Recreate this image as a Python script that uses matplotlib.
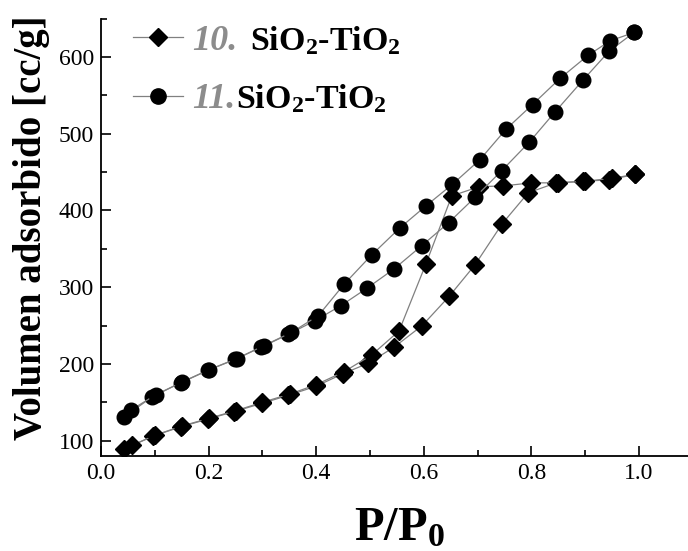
import numpy as np
import matplotlib
matplotlib.use('Agg')
import matplotlib.pyplot as plt
from matplotlib.lines import Line2D

plt.rcParams['font.family'] = ['Liberation Serif', 'DejaVu Serif']
plt.rcParams['mathtext.fontset'] = 'custom'
plt.rcParams['mathtext.rm'] = 'Liberation Serif:bold'
plt.rcParams['mathtext.bf'] = 'Liberation Serif:bold'
plt.rcParams['mathtext.default'] = 'regular'

# Sample 10 (diamonds): adsorption / desorption
p10_ads = [0.043, 0.097, 0.148, 0.198, 0.248, 0.299, 0.348, 0.40, 0.449, 0.497,
           0.545, 0.597, 0.647, 0.695, 0.746, 0.794, 0.846, 0.896, 0.945, 0.993]
v10_ads = [89, 106, 118, 128, 138, 148.6, 159, 171, 187, 201,
           222, 250, 288, 329, 383, 423, 436, 438, 440, 447]
p10_des = [0.993, 0.95, 0.90, 0.85, 0.80, 0.748, 0.703, 0.652, 0.604, 0.554,
           0.503, 0.452, 0.40, 0.352, 0.30, 0.25, 0.20, 0.15, 0.10, 0.058]
v10_des = [447, 442, 438, 436, 436, 432, 431, 419, 330.5, 243,
           211.6, 190, 173, 161, 150, 139, 129, 119, 107, 94]

# Sample 11 (circles): adsorption / desorption
p11_ads = [0.043, 0.095, 0.148, 0.199, 0.249, 0.297, 0.348, 0.398, 0.446, 0.494,
           0.545, 0.596, 0.646, 0.695, 0.745, 0.796, 0.844, 0.896, 0.945, 0.991]
v11_ads = [131, 157, 175.5, 192, 206, 221.5, 238.5, 256.5, 276, 298.5,
           324, 354, 384, 417, 452, 489, 528.5, 570, 608, 632]
p11_des = [0.991, 0.946, 0.905, 0.853, 0.802, 0.753, 0.704, 0.653, 0.604, 0.555,
           0.503, 0.452, 0.404, 0.354, 0.303, 0.253, 0.20, 0.15, 0.102, 0.056]
v11_des = [632, 621, 602, 572, 538, 506, 466, 434, 406, 377,
           342, 304, 263, 241, 224, 207, 192, 176, 160, 140]

labels = ['10.', '11.']
sample_name = 'SiO$_2$-TiO$_2$'

line_color = '#808080'

fig = plt.figure(figsize=(6.88, 5.51), dpi=100)
ax = fig.add_axes([0.1468, 0.1724, 0.8532, 0.7938])

ax.plot(p10_ads, v10_ads, color=line_color, lw=0.9, marker='D', ms=9,
        mfc='k', mec='k')
ax.plot(p10_des, v10_des, color=line_color, lw=0.9, marker='D', ms=9,
        mfc='k', mec='k')
ax.plot(p11_ads, v11_ads, color=line_color, lw=0.9, marker='o', ms=10.5,
        mfc='k', mec='k')
ax.plot(p11_des, v11_des, color=line_color, lw=0.9, marker='o', ms=10.5,
        mfc='k', mec='k')

ax.set_xlim(0, 1.091)
ax.set_ylim(80, 650)
ax.set_xticks(np.arange(0, 1.01, 0.2))
ax.set_xticks(np.arange(0.1, 1.1, 0.2), minor=True)
ax.set_yticks(np.arange(100, 601, 100))
ax.set_yticks(np.arange(150, 651, 100), minor=True)
ax.xaxis.set_major_formatter(matplotlib.ticker.FormatStrFormatter('%.1f'))

for s in ['top', 'right']:
    ax.spines[s].set_visible(False)
for s in ['left', 'bottom']:
    ax.spines[s].set_linewidth(1.3)

ax.tick_params(which='both', direction='in', width=1.2, labelsize=17)
ax.tick_params(which='major', length=7, pad=5)
ax.tick_params(which='minor', length=4)

ax.set_ylabel('Volumen adsorbido [cc/g]', fontsize=28, fontweight='bold')
ax.yaxis.set_label_coords(-0.087, 0.522)
ax.set_xlabel('P/P$_0$', fontsize=35, fontweight='bold')
ax.xaxis.set_label_coords(0.509, -0.115)

handles = [
    Line2D([], [], color=line_color, lw=0.9, marker='D', ms=9, mfc='k', mec='k'),
    Line2D([], [], color=line_color, lw=0.9, marker='o', ms=11, mfc='k', mec='k'),
]
leg = ax.legend(handles, labels, loc='upper left', bbox_to_anchor=(0.0545, 0.986),
                frameon=False, borderpad=0, borderaxespad=0, handlelength=1.39,
                handletextpad=0.24, labelspacing=0.69,
                prop={'size': 26, 'weight': 'bold', 'style': 'italic'})
# sample name next to each legend entry, drawn after the legend
gaps = [9, 1]
for txt, gap in zip(leg.get_texts(), gaps):
    txt.set_color('#8c8c8c')
    ax.annotate(sample_name, xy=(1, 0.24), xycoords=txt, xytext=(gap, 0),
                textcoords='offset points', fontsize=24.5, fontweight='bold',
                va='baseline', ha='left', color='k', zorder=10)

fig.savefig('out.png', dpi=100)
